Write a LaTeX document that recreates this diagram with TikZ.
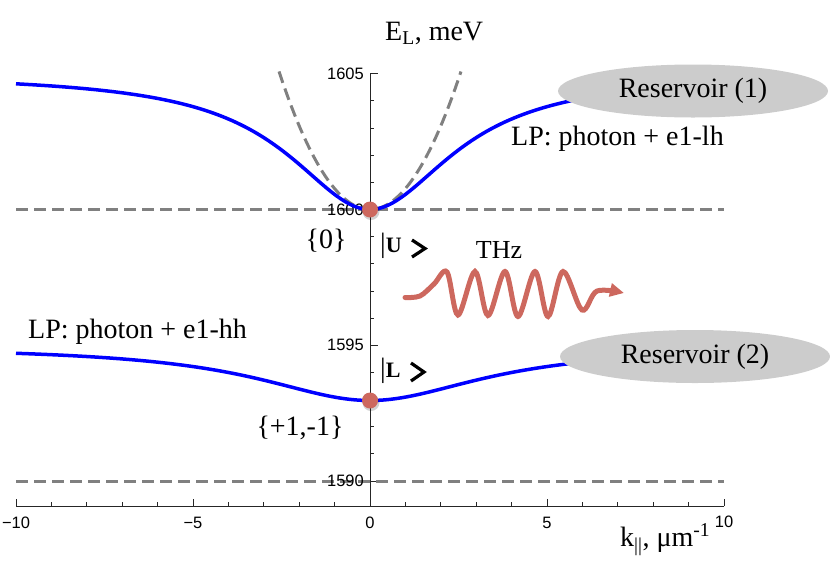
\documentclass[tikz,border=0pt]{standalone}
\usepackage{fontspec}
\setmainfont{Liberation Serif}
\newfontfamily\tickfont{Liberation Sans}
\usetikzlibrary{arrows.meta,shapes.geometric}
\definecolor{dotred}{RGB}{205,104,94}
\definecolor{dashgray}{RGB}{128,128,128}
\definecolor{resgray}{RGB}{204,204,204}
\begin{document}
\begin{tikzpicture}[x=1pt,y=-1pt,
  curve/.style={draw=blue, line width=3.5pt},
  dashline/.style={draw=dashgray, line width=3pt, dash pattern=on 12pt off 6pt},
  axisline/.style={draw=black!85, line width=0.9pt},
  tickl/.style={font=\tickfont\fontsize{16.5}{16.5}\selectfont, inner sep=0pt},
  lbl/.style={font=\fontsize{28}{28}\selectfont, inner sep=0pt},
  res/.style={ellipse, fill=resgray, minimum width=270pt, minimum height=53pt, inner sep=0pt, font=\fontsize{28}{28}\selectfont},
  dot/.style={circle, fill=dotred, minimum size=16pt, inner sep=0pt},
  chev/.style={draw=black, line width=3.2pt, line cap=butt, line join=miter}
]
\useasboundingbox (0,0) rectangle (830,563);
% axes
\coordinate (ytop) at (370,73.75);
\coordinate (ybot) at (370,506);
\coordinate (xl) at (16,506);
\coordinate (xr) at (724,506);
\draw[axisline] (ytop) -- (ybot);
\draw[axisline] (xl) -- (xr);
\foreach \e in {1590,...,1605} {
  \draw[axisline] (370,{209.5-27.15*(\e-1600)}) -- ++(4,0);
}
\foreach \e in {1590,1595,1600,1605} {
  \draw[axisline] (370,{209.5-27.15*(\e-1600)}) -- ++(8,0);
}
\foreach \k in {-10,...,10} {
  \draw[axisline] ({370+35.4*\k},506) -- ++(0,-4);
}
\foreach \k in {-10,-5,0,5,10} {
  \draw[axisline] ({370+35.4*\k},506) -- ++(0,-7);
}
% dashed lines
\coordinate (d1l) at (16,209.5);
\coordinate (d1r) at (724,209.5);
\coordinate (d2l) at (16,481);
\coordinate (d2r) at (724,481);
\draw[dashline] (d1l) -- (d1r);
\draw[dashline] (d2l) -- (d2r);
\draw[dashline] plot[domain=-2.57:2.57, samples=60] ({370+35.4*\x},{209.5-20.9*\x*\x});
% tick labels
\node[tickl, anchor=east] (y1605) at (364,73.75) {1605};
\node[tickl, anchor=east] (y1600) at (364,209.5) {1600};
\node[tickl, anchor=east] (y1595) at (364,345.25) {1595};
\node[tickl, anchor=east] (y1590) at (364,481) {1590};
\node[tickl] (xm10) at (16,523) {−10};
\node[tickl] (xm5) at (193,523) {−5};
\node[tickl] (x0) at (370,523) {0};
\node[tickl] (x5) at (547,523) {5};
\node[tickl] (x10) at (724,522) {10};
% curves
\draw[curve] plot[domain=-10:5.8, samples=120] ({370+35.4*\x},{209.5-135.75*\x*\x/(\x*\x+8)});
\draw[curve] plot[domain=-10:5.8, samples=120] ({370+35.4*\x},{400.5-54.3*\x*\x/(\x*\x+15)});
% reservoirs
\node[res] (res1) at (693,91) {Reservoir (1)};
\node[res] (res2) at (695,356.5) {Reservoir (2)};
% dots
\fill[black, opacity=0.18] (371,211.5) circle (8.5pt);
\fill[black, opacity=0.18] (371,402.5) circle (8.5pt);
\node[dot] (dU) at (370,209.5) {};
\node[dot] (dL) at (370,400.5) {};
% labels
\node[lbl, anchor=base west] (ylab) at (385,40) {E\textsubscript{L}, meV};
\node[lbl, anchor=base west] (xlab) at (620,546) {k\textsubscript{||}, μm\textsuperscript{-1}};
\node[lbl, anchor=base west] (lp1) at (511,145) {LP: photon + e1-lh};
\node[lbl, anchor=base west] (lp2) at (28,338) {LP: photon + e1-hh};
\node[lbl] (s0) at (326,241) {\{0\}};
\node[lbl] (s1) at (300,428) {\{+1,-1\}};
\node[lbl, anchor=base west] (ketU) at (380,252) {|{\fontsize{22}{22}\selectfont\textbf{U}}};
\node[lbl, anchor=base west] (ketL) at (380,377) {|{\fontsize{22}{22}\selectfont\textbf{L}}};
\draw[chev] (412,240) -- (425,248.5) -- (412,257);
\draw[chev] (411,363) -- (424,372) -- (411,381);
\node[lbl, anchor=base, font=\fontsize{26}{26}\selectfont] (thz) at (499,258) {THz};
% wave
\draw[dotred, line width=5pt, line cap=round, -{Triangle[length=14pt,width=13pt]}] plot[smooth, tension=0.55] coordinates {(405,297.5) (420,296) (434,284) (447,272) (458,315) (475,271.5) (488,315.5) (505,271.5) (518,316.5) (535,271.5) (548,316.5) (563,271.5) (582,310) (597,291) (624,293)};
\end{tikzpicture}
\end{document}
